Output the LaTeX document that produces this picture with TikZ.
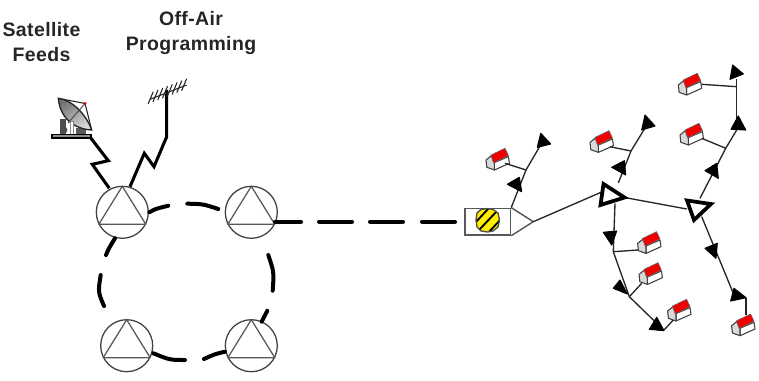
\documentclass[tikz,border=0pt]{standalone}
\usepackage{fontspec}
\usetikzlibrary{calc}
\setmainfont{Liberation Sans}
\newfontfamily\lblfont[LetterSpace=2]{Liberation Sans Bold}
\tikzset{
  ringnode/.style={circle,draw=black!75,fill=white,line width=.95pt,minimum size=39pt,inner sep=0pt},
  trianglei/.style={draw=black!65,line width=.95pt},
  ringseg/.style={line width=3pt,line cap=round},
  feedline/.style={line width=3pt},
  zigline/.style={line width=2.3pt,miter limit=10},
  thinline/.style={draw=black!85,line width=1pt},
  headtri/.style={fill=black,draw=black,line width=.8pt,line join=round},
  ampshape/.style={draw=black,line width=2.8pt,fill=white,line join=miter},
  lbl/.style={font=\lblfont\fontsize{14.6}{17}\selectfont,text=black!85,align=center,inner sep=0pt},
  wall/.style={draw=black!75,line width=.8pt,fill=black!15,line join=round},
  roofp/.style={fill=red!95!black,draw=black!60,line width=.5pt},
  sidep/.style={draw=black!75,line width=.8pt,fill=white,line join=round}
}
\newcommand{\ampnode}[3]{%
  \node[ringnode] (#1) at (#2,#3) {};
  \draw[trianglei,line join=round] (#2,#3-26) -- (#2+23.5,#3+12) -- (#2-23.5,#3+12) -- cycle;
}
\newcommand{\housep}[3]{%
  \begin{scope}[shift={(#2,#3)}]
    \coordinate (#1) at (0,0);
    \draw[sidep] (-3.3,4.3) -- (10.7,-1.7) -- (11.7,5) -- (-3.3,11.7) -- cycle;
    \draw[wall] (-11.7,1.7) -- (-6.5,-2.5) -- (-3.3,5) -- (-3.3,11.7) -- (-10.9,9) -- cycle;
    \draw[roofp] (-6.7,-3.3) -- (7.3,-10) -- (10.7,-2.7) -- (-4,4.7) -- cycle;
  \end{scope}}
\begin{document}
\begin{tikzpicture}[x=.75pt,y=-.75pt]
\useasboundingbox (0,0) rectangle (759,381);
% labels
\node[lbl] (sat) at (41.5,42) {Satellite\\[2.2pt]Feeds};
\node[lbl] (off) at (191,33) {Off-Air\\[2.2pt]Programming};
% ring nodes
\ampnode{tl}{122.3}{212.3}
\ampnode{tr}{251.3}{212.3}
\ampnode{bl}{126.7}{345.7}
\ampnode{br}{251.3}{345.7}
% ring segments
\coordinate (a1) at (149.3,212.3); \coordinate (a2) at (168.3,205.7);
\coordinate (b1) at (187.3,203.7); \coordinate (b2) at (218.3,209);
\coordinate (c1) at (268.3,255); \coordinate (c2) at (272.7,290.7);
\coordinate (d1) at (267.3,310.7); \coordinate (d2) at (261.7,321.7);
\coordinate (e1) at (225,351.7); \coordinate (e2) at (204,359);
\coordinate (f1) at (185,360); \coordinate (f2) at (153.3,353.3);
\coordinate (g1) at (104,306); \coordinate (g2) at (100.7,275);
\coordinate (h1) at (106,255); \coordinate (h2) at (115,238.3);
\draw[ringseg] (a1) .. controls (155,209) .. (a2);
\draw[ringseg] (b1) .. controls (203,204) .. (b2);
\draw[ringseg] (c1) .. controls (274,272) .. (c2);
\draw[ringseg] (d1) -- (d2);
\draw[ringseg] (e1) .. controls (215,354) .. (e2);
\draw[ringseg] (f1) .. controls (170,360) .. (f2);
\draw[ringseg] (g1) .. controls (98,292) .. (g2);
\draw[ringseg] (h1) .. controls (109,248) .. (h2);
% long feed
\coordinate (f0) at (275,221.7);
\node[draw=black!65,fill=white,line width=1.1pt,minimum width=34pt,minimum height=20pt,inner sep=0pt] (he) at (487.8,221.7) {};
\coordinate (s1) at (301,221.7); \coordinate (s2) at (319,221.7); \coordinate (s3) at (352,221.7);
\coordinate (s4) at (370,221.7); \coordinate (s5) at (403,221.7); \coordinate (s6) at (422,221.7);
\coordinate (s7) at (455,221.7);
\draw[feedline,line cap=round] (f0) -- (s1) (s2) -- (s3) (s4) -- (s5) (s6) -- (s7);
% head-end
\coordinate (hx) at (533.3,221.7);
\draw[draw=black!65,line width=1.1pt,fill=white,line join=round] (he.north east) -- (hx) -- (he.south east);
\begin{scope}
  \clip (487.7,208.5) -- (493,209.5) -- (498,213) -- (499.5,220) -- (498,227) -- (493,231) -- (487.7,232) -- (481,231) -- (477,227) -- (476,220) -- (477,213) -- (481,209.5) -- cycle;
  \fill[yellow!95!orange] (470,200) rectangle (505,240);
  \draw[line width=1.4pt] (474,224) -- (489,208) (479,230) -- (497,211) (487,234) -- (503,217);
\end{scope}
\draw[line width=1pt,black!70] (487.7,208.5) -- (493,209.5) -- (498,213) -- (499.5,220) -- (498,227) -- (493,231) -- (487.7,232) -- (481,231) -- (477,227) -- (476,220) -- (477,213) -- (481,209.5) -- cycle;
% amplifiers
\coordinate (am1a) at (603.5,184); \coordinate (am1b) at (624.5,197.5); \coordinate (am1c) at (600.5,205);
\coordinate (am2a) at (687,200.5); \coordinate (am2b) at (711,204); \coordinate (am2c) at (694,220);
\coordinate (am1in) at (604,191); \coordinate (am1down) at (615,203.3);
\coordinate (am1up) at (618.3,183); \coordinate (am2in) at (686.7,209);
\coordinate (am2up) at (700,198.3); \coordinate (am2down) at (701.7,216.7);
% houses
\housep{ha}{497.7}{158.3}
\housep{hb}{601.7}{140.7}
\housep{hc}{690}{83.3}
\housep{hd}{691.7}{133.3}
\housep{he2}{649.3}{241.7}
\housep{hf}{650.7}{272.7}
\housep{hg}{679.3}{309.3}
\housep{hh}{743.3}{324}
% junctions
\coordinate (j1) at (526,170); \coordinate (j2) at (631,151); \coordinate (j3) at (725.7,148.3);
\coordinate (j4) at (736.7,86.7); \coordinate (j5) at (613.3,251.7); \coordinate (j6) at (629.3,296.7);
\coordinate (ta) at (540,146); \coordinate (tb) at (645,128); \coordinate (tc) at (736.7,79);
\coordinate (td) at (736.7,130); \coordinate (te) at (658.5,325); \coordinate (tf) at (664,330);
\coordinate (tg) at (733.3,293.3); \coordinate (th) at (746,298.3); \coordinate (ti) at (746,315);
\coordinate (ha1) at (505,163.3); \coordinate (hb1) at (610,146.7); \coordinate (hc1) at (701.7,84.3);
\coordinate (hd1) at (701.7,138.3); \coordinate (he1) at (638.3,250); \coordinate (hf1) at (641.7,283.3);
\coordinate (hg1) at (673.3,320);
% thin connectors
\draw[thinline] (he.north east) -- (j1) -- (ta);
\draw[thinline] (ha1) -- (j1);
\draw[thinline] (hx) -- (am1in);
\draw[thinline] (am1b) -- (am2in);
\draw[thinline] (am1up) -- (j2) -- (tb);
\draw[thinline] (hb1) -- (j2);
\draw[thinline] (am2up) -- (j3) -- (td);
\draw[thinline] (hd1) -- (j3);
\draw[thinline] (td) -- (tc);
\draw[thinline] (hc1) -- (j4);
\draw[thinline] (am1down) -- (j5) -- (j6) -- (te);
\draw[thinline] (he1) -- (j5);
\draw[thinline] (hf1) -- (j6);
\draw[thinline] (tf) -- (hg1);
\draw[thinline] (am2down) -- (tg);
\draw[thinline] (th) -- (ti);
% arrow triangles
\draw[headtri] (519.3,177.3) -- (521.7,191.7) -- (507.3,184.3) -- cycle;
\draw[headtri] (540.7,133.3) -- (550.7,144) -- (537.3,147.3) -- cycle;
\draw[headtri] (624.3,160.7) -- (625.7,175) -- (611.7,167.3) -- cycle;
\draw[headtri] (645,115) -- (655,126) -- (641.7,130) -- cycle;
\draw[headtri] (716.7,163.3) -- (718.3,178.3) -- (705,170.7) -- cycle;
\draw[headtri] (738.3,116) -- (745.7,130) -- (731,129.3) -- cycle;
\draw[headtri] (732.7,65) -- (743.3,74) -- (730,79.3) -- cycle;
\draw[headtri] (603.3,232.3) -- (616.7,231) -- (611.7,245) -- cycle;
\draw[headtri] (620,280) -- (627.3,294) -- (613.3,288.3) -- cycle;
\draw[headtri] (656.7,317.3) -- (664,330.7) -- (649.3,329.3) -- cycle;
\draw[headtri] (705,248.3) -- (717.3,243.3) -- (716,258.3) -- cycle;
\draw[headtri] (734,288.3) -- (746,297.7) -- (730.7,301) -- cycle;
% amplifier triangles
\draw[ampshape] (am1a) -- (am1b) -- (am1c) -- cycle;
\draw[ampshape] (am2a) -- (am2b) -- (am2c) -- cycle;
% dish
\coordinate (z1) at (91,138.3); \coordinate (z2) at (108.3,160.7); \coordinate (z3) at (92.3,164.3);
\coordinate (z4) at (109.3,188.3);
\draw[zigline] (z1) -- (z2) -- (z3) -- (z4);
\fill[black!70] (60,119) rectangle (66,134);
\fill[black!70] (63,123) circle (3.2);
\fill[black!70] (64,130) circle (3.4);
\fill[black!65] (76,128) rectangle (86,134);
\coordinate (da) at (58.3,98.3); \coordinate (db) at (91.7,130);
\shade[left color=black!55,right color=black!15,shading angle=35,draw=black!85,line width=1pt]
  (da) .. controls (72,100) and (86,114) .. (db) .. controls (74,129) and (60,118) .. (da) -- cycle;
\draw[black!45,fill=white,line width=.4pt] (70,121) rectangle (73.5,134);
\draw[line width=1.1pt,fill=black!45] (52,134.5) rectangle (91,138);
\coordinate (dp) at (85,103.5);
\draw[black!85,line width=.8pt] (da) -- (dp) -- (db);
\draw[black!70,line width=.7pt] (dp) -- (68,123);
\fill[red!85!black] (dp) circle (1.7);
% antenna
\coordinate (y1) at (130,186.7); \coordinate (y2) at (144.3,153.3); \coordinate (y3) at (154,166.7);
\coordinate (y4) at (166.7,136.7); \coordinate (y5) at (166.7,90);
\draw[zigline] (y1) -- (y2) -- (y3) -- (y4) -- (y5);
\draw[black!85,line width=.8pt] (150,99.3) -- (186.7,85);
\foreach \t in {0,.13,.26,.39,.52,.65,.78,.91}{
  \draw[black!85,line width=.8pt] ($(150,99.3)!\t!(186.7,85)+(-1.8,4.5)$) -- ++(5,-12);
}
\end{tikzpicture}
\end{document}
